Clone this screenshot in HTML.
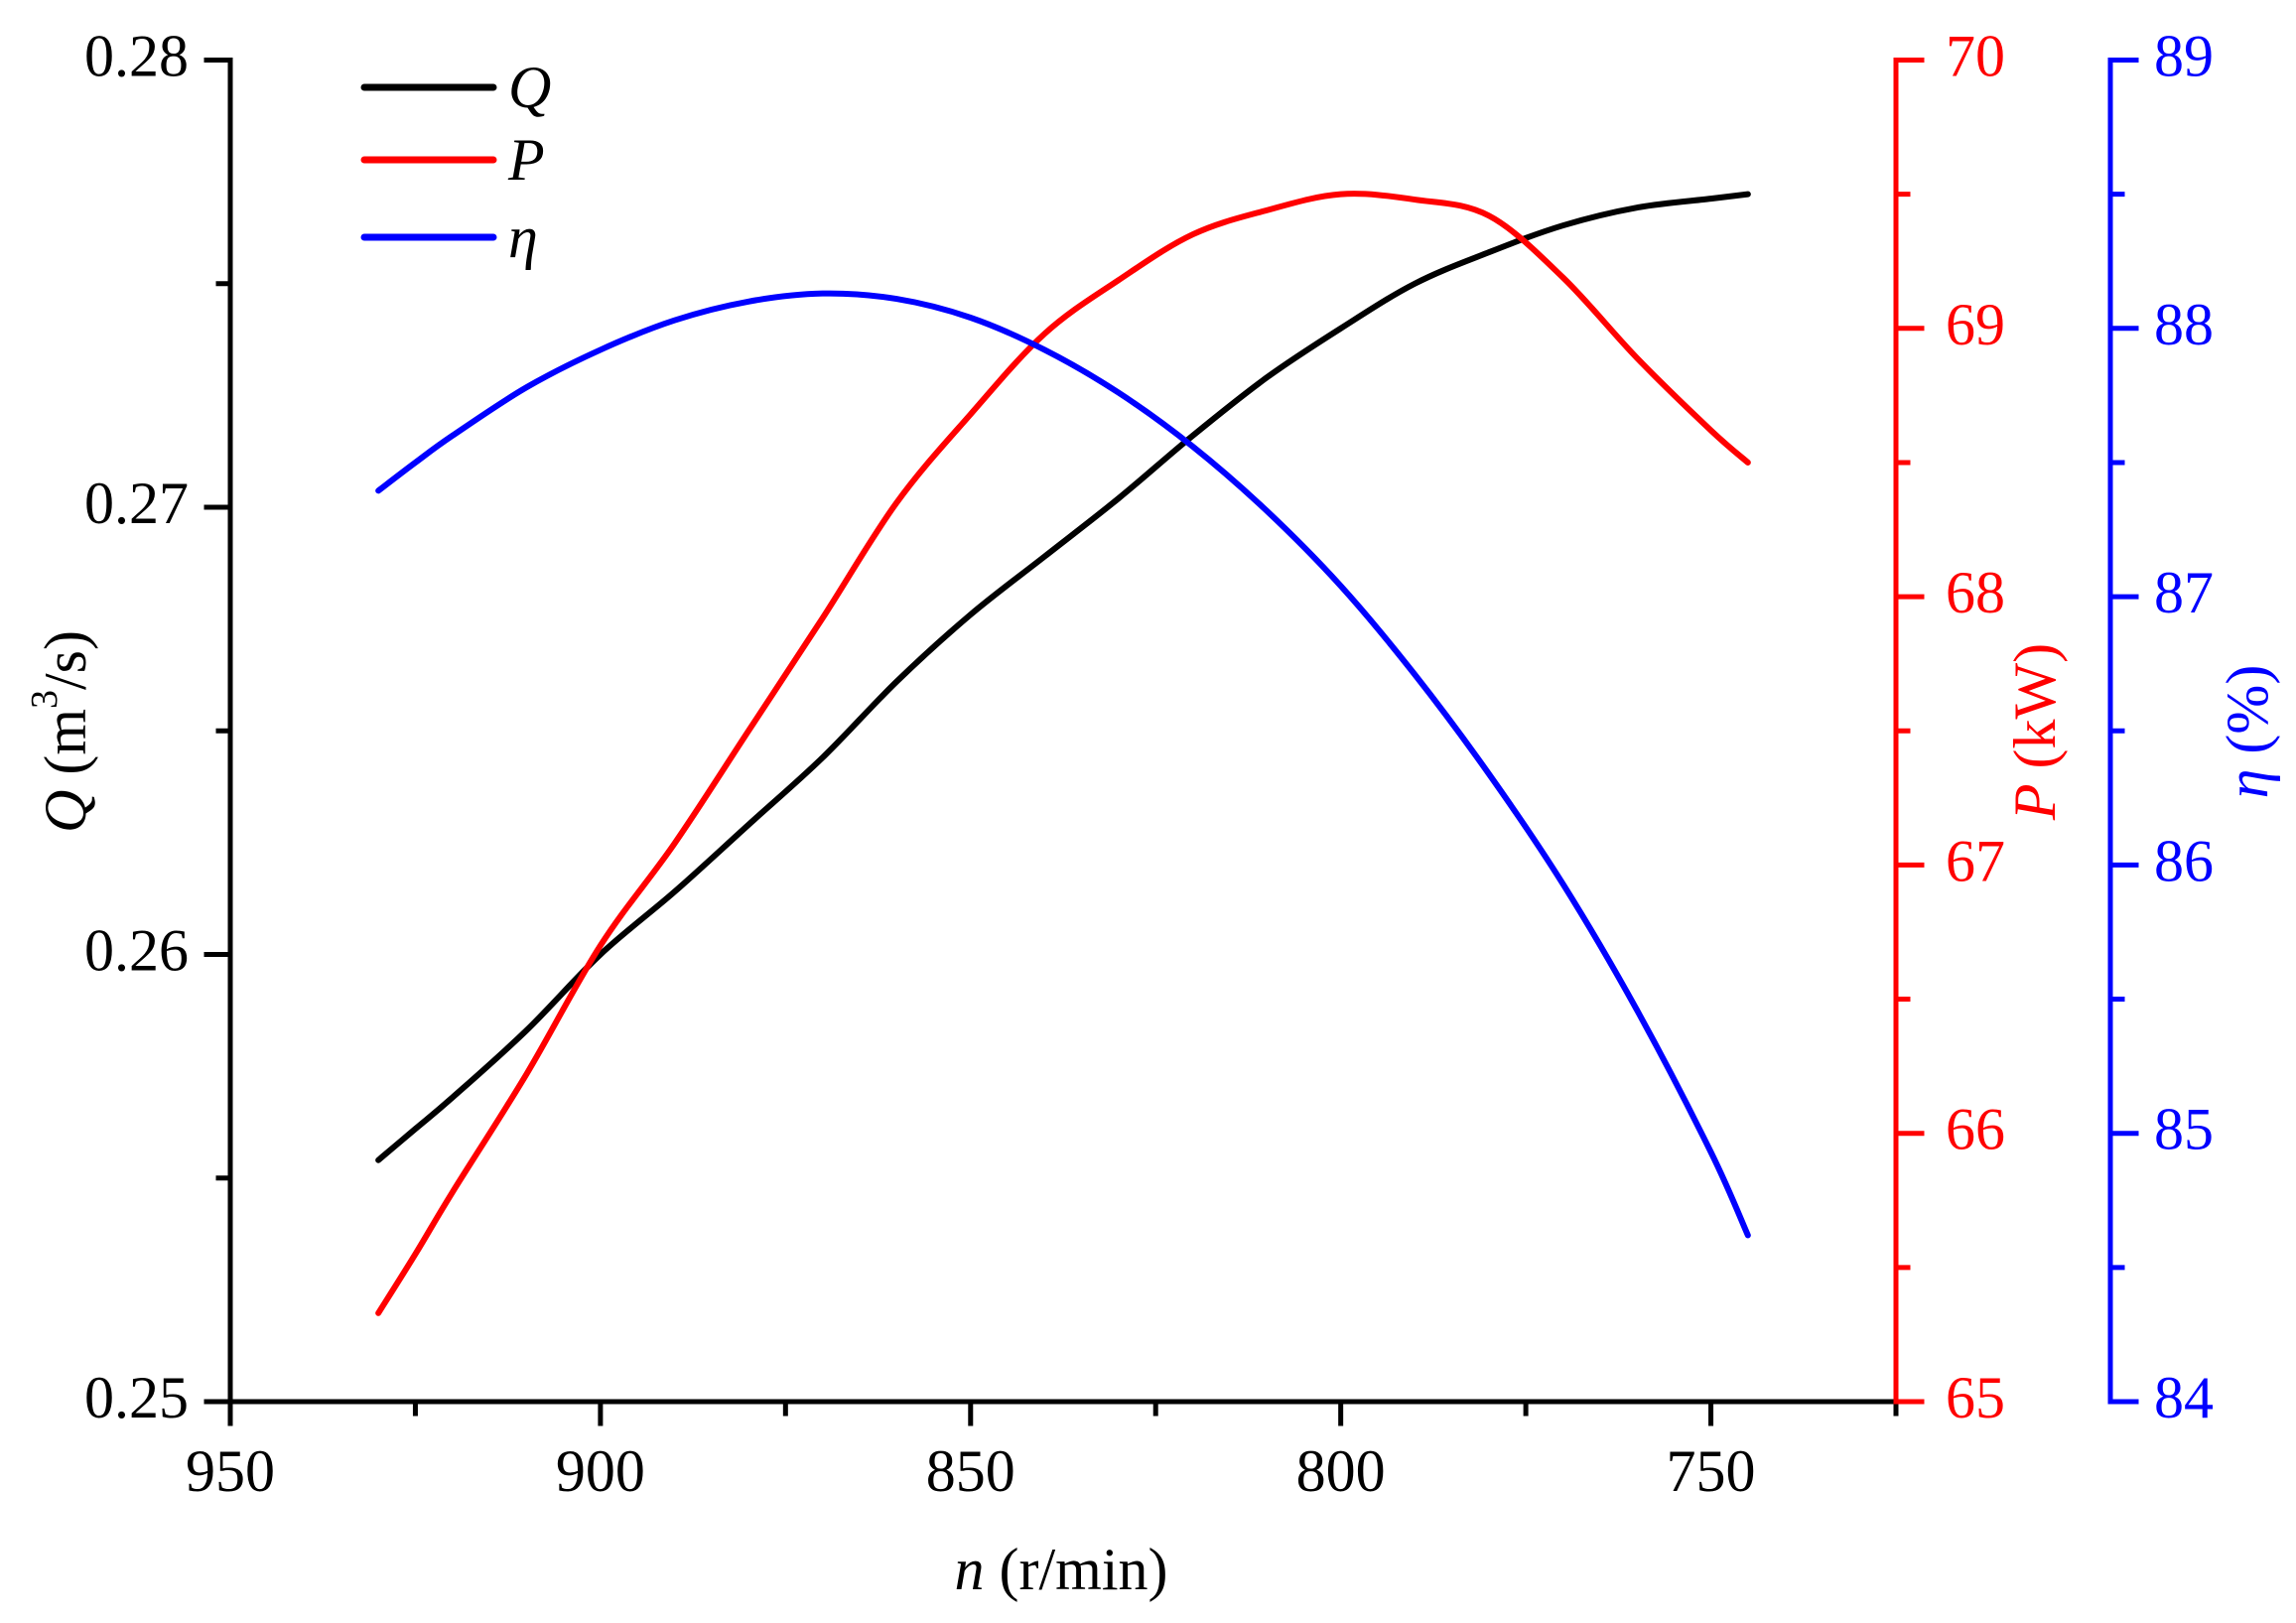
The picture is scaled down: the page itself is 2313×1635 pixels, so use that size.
<!DOCTYPE html>
<html><head><meta charset="utf-8"><style>
html,body{margin:0;padding:0;background:#fff;}
svg{display:block;font-family:"Liberation Serif",serif;}
</style></head><body>
<svg id="chart" width="2313" height="1635" viewBox="0 0 2313 1635" xmlns="http://www.w3.org/2000/svg"></svg>
<script>
const speeds=[930,925,920,910,900,890,880,870,860,850,840,830,820,810,800,790,780,770,760,750,745];
const flowQ=[0.2554,0.2561,0.2568,0.2583,0.2600,0.2614,0.2629,0.2644,0.2661,0.2676,0.2689,0.2702,0.2716,0.2729,0.2740,0.2750,0.2757,0.2763,0.2767,0.2769,0.2770];
const powerP=[65.33,65.55,65.78,66.22,66.70,67.08,67.50,67.92,68.35,68.68,68.98,69.18,69.35,69.44,69.50,69.48,69.42,69.19,68.89,68.62,68.50];
const effEta=[87.395,87.50,87.60,87.78,87.92,88.03,88.10,88.13,88.11,88.04,87.92,87.76,87.56,87.32,87.04,86.71,86.34,85.93,85.46,84.93,84.62];
const xTicks=[950,900,850,800,750];
const qTicks=[0.25,0.26,0.27,0.28];
const pTicks=[65,66,67,68,69,70];
const etaTicks=[84,85,86,87,88,89];

const NS="http://www.w3.org/2000/svg";
const svg=document.getElementById('chart');
const L=232,R=1910,B2=2126,T=60.5,Bot=1412;
const X0=950,X1=725;
const sx=n=>L+(X0-n)/(X0-X1)*(R-L);
const sq=v=>Bot-(v-0.25)/0.03*(Bot-T);
const sp=v=>Bot-(v-65)/5*(Bot-T);
const se=v=>Bot-(v-84)/5*(Bot-T);
const FS=60;
function mk(tag,attrs,parent){const e=document.createElementNS(NS,tag);for(const k in attrs)e.setAttribute(k,attrs[k]);(parent||svg).appendChild(e);return e;}
function line(x1,y1,x2,y2,c,w,g){return mk('line',{x1,y1,x2,y2,stroke:c,'stroke-width':w,'stroke-linecap':'square'},g);}
function text(x,y,s,c,anchor,g,size){const t=mk('text',{x,y,fill:c,'font-size':size||FS,'text-anchor':anchor||'middle','dominant-baseline':'central'},g);t.textContent=s;return t;}

const gx=mk('g',{});


line(L,Bot,R,Bot,'#000',5,gx);
for(let n=950;n>=725;n-=25){const x=sx(n);const major=n%50===0;line(x,Bot,x,Bot+(major?22:12),'#000',5,gx);}
xTicks.forEach(n=>{const t=text(sx(n),Bot+70,String(n),'#000','middle',gx);});
const xt=text(1069,1581,'','#000','middle',svg);


xt.innerHTML='<tspan font-style="italic">n</tspan> (r/min)';

const gq=mk('g',{});


line(L,T,L,Bot,'#000',5,gq);
for(let i=0;i<=6;i++){const v=0.25+i*0.005;const y=sq(v);line(L,y,L-(i%2===0?24:12),y,'#000',5,gq);}
qTicks.forEach(v=>{const t=text(L-42,sq(v)-4,v.toFixed(2),'#000','end',gq);});
const qt=text(0,0,'','#000','middle',svg);
qt.setAttribute('transform','translate(66,737) rotate(-90)');


qt.innerHTML='<tspan font-style="italic">Q</tspan> (m<tspan baseline-shift="super" font-size="38">3</tspan>/s)';

const gp=mk('g',{});


line(R,T,R,Bot,'#f00',5,gp);
for(let i=0;i<=10;i++){const v=65+i*0.5;const y=sp(v);line(R,y,R+(i%2===0?26:12),y,'#f00',5,gp);}
pTicks.forEach(v=>{const t=text(R+50,sp(v)-4,String(v),'#f00','start',gp);});
const pt=text(0,0,'','#f00','middle',svg);
pt.setAttribute('transform','translate(2050,737) rotate(-90)');


pt.innerHTML='<tspan font-style="italic">P</tspan> (kW)';

const ge=mk('g',{});


line(B2,T,B2,Bot,'#00f',5,ge);
for(let i=0;i<=10;i++){const v=84+i*0.5;const y=se(v);line(B2,y,B2+(i%2===0?26:12),y,'#00f',5,ge);}
etaTicks.forEach(v=>{const t=text(B2+44,se(v)-4,String(v),'#00f','start',ge);});
const et=text(0,0,'','#00f','middle',svg);
et.setAttribute('transform','translate(2264,737) rotate(-90)');


et.innerHTML='<tspan font-style="italic">η</tspan> (%)';

function smooth(pts){let d='M'+pts[0][0]+','+pts[0][1];for(let i=0;i<pts.length-1;i++){const p0=pts[i-1]||pts[i],p1=pts[i],p2=pts[i+1],p3=pts[i+2]||p2;const c1=[p1[0]+(p2[0]-p0[0])/6,p1[1]+(p2[1]-p0[1])/6],c2=[p2[0]-(p3[0]-p1[0])/6,p2[1]-(p3[1]-p1[1])/6];d+=' C'+c1+' '+c2+' '+p2;}return d;}
function series(vals,sy,color,name){const p=mk('path',{d:smooth(speeds.map((n,i)=>[sx(n),sy(vals[i])])),fill:'none',stroke:color,'stroke-width':6,'stroke-linejoin':'round','stroke-linecap':'round'});}
series(flowQ,sq,'#000','q-line');
series(powerP,sp,'#f00','p-line');
series(effEta,se,'#00f','eta-line');

const legend=[['Q','#000',88],['P','#f00',161],['η','#00f',239]];
legend.forEach(([lab,c,y])=>{const g=mk('g',{});mk('line',{x1:367,y1:y,x2:497,y2:y,stroke:c,'stroke-width':7,'stroke-linecap':'round'},g);const t=text(512,y,lab,'#000','start',g);t.setAttribute('font-style','italic');});
</script>
</body></html>
